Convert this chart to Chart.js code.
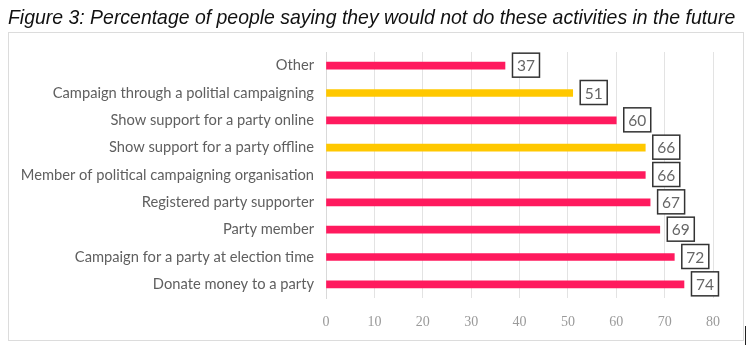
<!DOCTYPE html>
<html>
<head>
<meta charset="utf-8">
<script src="https://cdn.jsdelivr.net/npm/chart.js@4.4.1/dist/chart.umd.min.js"></script>
<style>
  html, body { margin: 0; padding: 0; background: #ffffff; }
  #wrap { width: 754px; height: 352px; position: relative; }
</style>
</head>
<body>
<div id="wrap"><canvas id="c" width="754" height="352"></canvas></div>
<script>
const categories = [
  "Other",
  "Campaign through a politial campaigning",
  "Show support for a party online",
  "Show support for a party offline",
  "Member of political campaigning organisation",
  "Registered party supporter",
  "Party member",
  "Campaign for a party at election time",
  "Donate money to a party"
];
const values = [37, 51, 60, 66, 66, 67, 69, 72, 74];
const tickValues = [0, 10, 20, 30, 40, 50, 60, 70, 80];
const titleText = "Figure 3: Percentage of people saying they would not do these activities in the future";

const PINK = "#ff1a5e";
const YELLOW = "#ffc800";
const yellowRows = [1, 3];

const framePlugin = {
  id: "frame",
  beforeDraw(chart) {
    const ctx = chart.ctx;
    ctx.save();
    ctx.strokeStyle = "#dcdcdc";
    ctx.lineWidth = 1;
    ctx.strokeRect(8.5, 32.5, 735, 308);
    ctx.strokeStyle = "#222";
    ctx.beginPath();
    ctx.moveTo(745.5, 326);
    ctx.lineTo(745.5, 345);
    ctx.stroke();
    ctx.fillStyle = "#111111";
    ctx.font = "italic 19.45px 'Liberation Sans', Arial, sans-serif";
    ctx.textAlign = "left";
    ctx.textBaseline = "alphabetic";
    ctx.fillText(titleText, 8, 24);
    ctx.restore();
  }
};

const labelPlugin = {
  id: "boxLabels",
  afterDatasetsDraw(chart) {
    const ctx = chart.ctx;
    const meta = chart.getDatasetMeta(0);
    ctx.save();
    ctx.font = "15.5px Lato, 'Open Sans', sans-serif";
    ctx.textAlign = "center";
    ctx.textBaseline = "middle";
    meta.data.forEach((bar, i) => {
      const x = bar.x + 7.5;
      const w = 27, h = 24;
      const yc = bar.y - 0.5;
      ctx.fillStyle = "#ffffff";
      ctx.fillRect(x, yc - h / 2, w, h);
      ctx.strokeStyle = "#333333";
      ctx.lineWidth = 1.5;
      ctx.strokeRect(x, yc - h / 2, w, h);
      ctx.fillStyle = "#666666";
      ctx.fillText(String(values[i]), x + w / 2, yc + 1);
    });
    ctx.restore();
  }
};

new Chart(document.getElementById("c"), {
  type: "bar",
  data: {
    labels: categories,
    datasets: [{
      data: values,
      backgroundColor: ctx => yellowRows.includes(ctx.dataIndex) ? YELLOW : PINK,
      borderWidth: 0,
      barThickness: 7
    }]
  },
  options: {
    indexAxis: "y",
    responsive: false,
    animation: false,
    layout: { padding: { left: 8, right: 41, top: 52, bottom: 8 } },
    plugins: {
      legend: { display: false },
      tooltip: { enabled: false },
      title: { display: false }
    },
    scales: {
      x: {
        min: 0,
        max: 80,
        afterBuildTicks: s => { s.ticks = tickValues.map(v => ({ value: v })); },
        afterFit: s => { s.height = 46; },
        grid: { color: "#e3e3e3", drawTicks: false, lineWidth: 1 },
        border: { display: false },
        ticks: {
          padding: 16,
          color: "#9a9a9a",
          font: { family: "'Liberation Serif', 'DejaVu Serif', serif", size: 14 }
        }
      },
      y: {
        afterFit: s => { s.width = 318; },
        grid: { display: false },
        border: { display: true, color: "#d9d9d9" },
        ticks: {
          padding: 4,
          color: "#5f5f5f",
          font: { family: "Lato, 'Open Sans', sans-serif", size: 14.7 }
        }
      }
    }
  },
  plugins: [framePlugin, labelPlugin]
});
</script>
</body>
</html>
